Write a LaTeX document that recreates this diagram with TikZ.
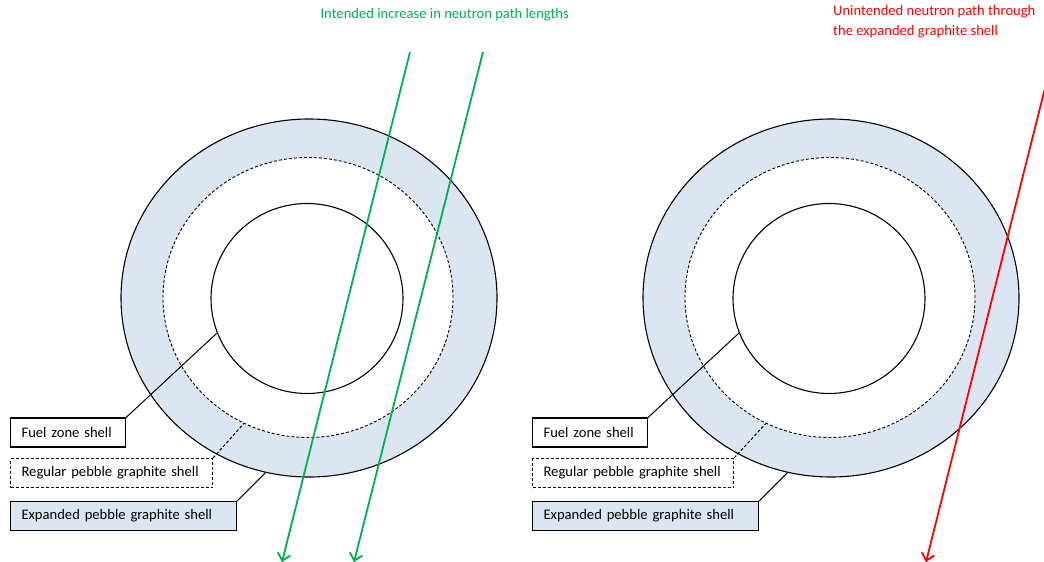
\documentclass[tikz,border=0pt]{standalone}
\usepackage{fontspec}
\setmainfont{Carlito}
\usetikzlibrary{shapes.geometric,arrows.meta}
\definecolor{shellblue}{HTML}{DCE6F2}
\definecolor{pathgreen}{HTML}{00B050}
\definecolor{pathred}{HTML}{FF0000}
\tikzset{
  every node/.style={font=\fontsize{14.6}{20}\selectfont},
  outershell/.style={ellipse, draw, line width=1.1pt, fill=shellblue,
    minimum width=376pt, minimum height=358pt, inner sep=0pt},
  pebbleshell/.style={ellipse, draw, dashed, dash pattern=on 3pt off 2pt,
    line width=0.9pt, fill=white, minimum width=290pt, minimum height=280pt, inner sep=0pt},
  fuelzone/.style={ellipse, draw, line width=1.1pt,
    minimum width=192pt, minimum height=190pt, inner sep=0pt},
  labelbox/.style={rectangle, draw, line width=1.1pt, anchor=west,
    align=left, inner xsep=11pt, inner ysep=0pt, minimum height=29pt},
  leader/.style={line width=1pt},
  greenpath/.style={draw=pathgreen, line width=1.8pt,
    -{Straight Barb[length=7pt,width=13pt]}},
  redpath/.style={draw=pathred, line width=1.8pt,
    -{Straight Barb[length=7pt,width=13pt]}},
}
\begin{document}
\begin{tikzpicture}[x=1pt,y=-1pt]
\useasboundingbox (0,0) rectangle (1044,562);

% ---------- left pebble ----------
\node[outershell]  (Lout)  at (309,298) {};
\node[pebbleshell] (Lpeb)  at (308,297.5) {};
\node[fuelzone]    (Lfuel) at (307,298.5) {};

\node[labelbox, text width=93pt]  (Lfuellab) at (10,432.5) {Fuel zone shell};
\node[labelbox, text width=180pt, dashed, dash pattern=on 3pt off 2pt] (Lreglab) at (10,473) {Regular pebble graphite shell};
\node[labelbox, text width=204pt, fill=shellblue] (Lexplab) at (10,516) {Expanded pebble graphite shell};

\draw[leader] (Lfuellab.north east) -- (Lfuel.201.7);
\draw[leader, dashed, dash pattern=on 3pt off 2pt] (Lreglab.north east) -- (Lpeb.243.5);
\draw[leader] (Lexplab.north east) -- (Lout.256.3);

% neutron paths through the expanded shell
\coordinate (g1s) at (410,52);
\coordinate (g1e) at (282,562);
\coordinate (g2s) at (483,52);
\coordinate (g2e) at (354,562);
\draw[greenpath] (g1s) -- (g1e);
\draw[greenpath] (g2s) -- (g2e);
\node[text=pathgreen, anchor=west] (gtitle) at (317,15) {Intended increase in neutron path lengths};

% ---------- right pebble ----------
\node[outershell]  (Rout)  at (831,298) {};
\node[pebbleshell] (Rpeb)  at (830,297.5) {};
\node[fuelzone]    (Rfuel) at (829,298.5) {};

\node[labelbox, text width=93pt]  (Rfuellab) at (532,432.5) {Fuel zone shell};
\node[labelbox, text width=179pt, dashed, dash pattern=on 3pt off 2pt] (Rreglab) at (532,473) {Regular pebble graphite shell};
\node[labelbox, text width=204pt, fill=shellblue] (Rexplab) at (532,516) {Expanded pebble graphite shell};

\draw[leader] (Rfuellab.north east) -- (Rfuel.201.7);
\draw[leader, dashed, dash pattern=on 3pt off 2pt] (Rreglab.north east) -- (Rpeb.243.5);
\draw[leader] (Rexplab.north east) -- (Rout.256.3);

\coordinate (r1s) at (1045,88);
\coordinate (r1e) at (926,562);
\draw[redpath] (r1s) -- (r1e);
\node[text=pathred, anchor=north west, align=left, inner sep=0pt] (rtitle) at (833,5)
  {Unintended neutron path through\\the expanded graphite shell};
\end{tikzpicture}
\end{document}
